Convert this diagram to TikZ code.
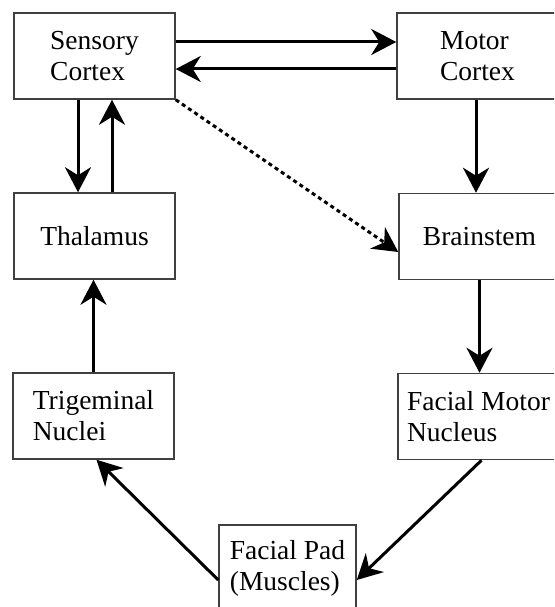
\documentclass[tikz,border=0pt]{standalone}
\usepackage{fontspec}
\setmainfont{Liberation Serif}
\usetikzlibrary{arrows.meta}
\begin{document}
\begin{tikzpicture}[x=1pt,y=-1pt,
  box/.style={draw=black!75, line width=1.5pt, minimum width=161pt, minimum height=86pt,
    inner sep=0pt, align=left, font=\fontsize{27.5}{31}\selectfont},
  conn/.style={line width=3pt, -{Stealth[length=25pt,width=26pt,inset=8pt]}},
  dotconn/.style={conn, dash pattern=on 4pt off 3.5pt}]
\useasboundingbox (0,0) rectangle (554,607);
\clip (0,0) rectangle (554,607);
\fill[white] (0,0) rectangle (554,607);
\node[box] (sc) at (94.5,56) {Sensory\\Cortex};
\node[box] (mc) at (477.5,56) {Motor\\Cortex};
\node[box] (th) at (94.5,236) {Thalamus};
\node[box] (bs) at (479.5,236.5) {Brainstem};
\node[box] (tn) at (93.5,416) {Trigeminal\\Nuclei};
\node[box] (fm) at (478.5,416.5) {Facial Motor\\Nucleus};
\node[box, minimum width=137pt] (fp) at (287.5,568) {Facial Pad\\(Muscles)};
\draw[conn] ([yshift=14pt]sc.east) -- ([yshift=14pt]mc.west);
\draw[conn] ([yshift=-13pt]mc.west) -- ([yshift=-13pt]sc.east);
\draw[conn] ([xshift=-16.5pt]sc.south) -- ([xshift=-16.5pt]th.north);
\draw[conn] ([xshift=17.5pt]th.north) -- ([xshift=17.5pt]sc.south);
\draw[conn] ([xshift=-1.5pt]mc.south) -- ([xshift=-3.5pt]bs.north);
\draw[dotconn] (sc.south east) -- ([yshift=-15.5pt]bs.west);
\draw[conn] (bs.south) -- (fm.north -| bs.south);
\draw[conn] (tn.north) -- (tn.north |- th.south);
\draw[conn] ([xshift=3pt]fm.south) -- ([yshift=-12pt]fp.east);
\draw[conn] ([yshift=-12pt]fp.west) -- ([xshift=3pt]tn.south);
\end{tikzpicture}
\end{document}
